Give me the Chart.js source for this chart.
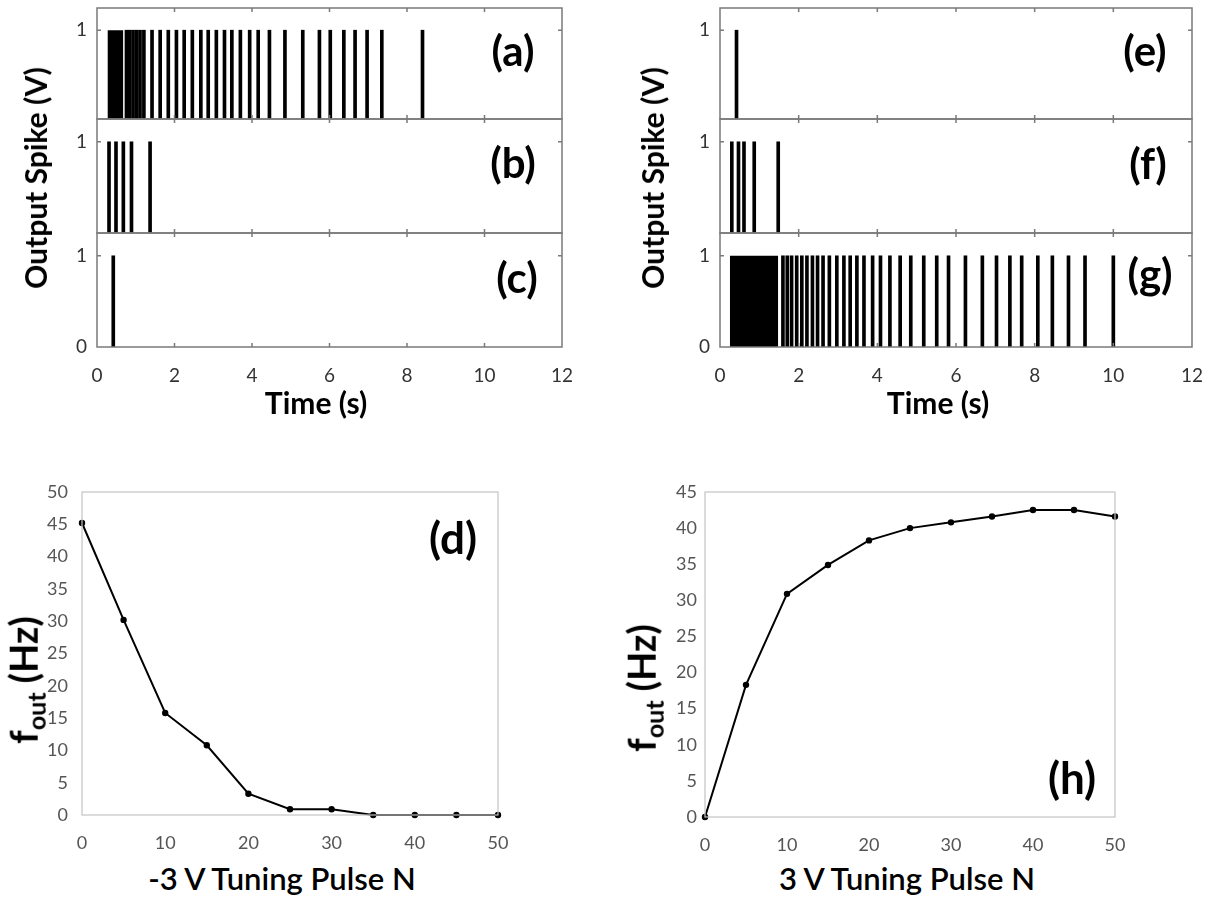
<!DOCTYPE html>
<html><head><meta charset="utf-8">
<script src="https://cdn.jsdelivr.net/npm/chart.js@4.4.0/dist/chart.umd.min.js"></script>
<style>
html,body{margin:0;padding:0;background:#fff;}
#wrap{position:relative;width:1216px;height:900px;overflow:hidden;font-family:Lato,"Open Sans",sans-serif;}
canvas{position:absolute;}
.lbl{position:absolute;font-weight:700;color:#000;white-space:nowrap;line-height:1;transform:translate(-50%,-50%);}
.rot{transform:translate(-50%,-50%) rotate(-90deg);}
.sub{font-size:66%;vertical-align:-0.3em;margin-right:9px;}
</style></head><body><div id="wrap">
<canvas id="cA" width="540" height="126" style="left:40px;top:0px"></canvas>
<canvas id="cB" width="540" height="126" style="left:40px;top:113px"></canvas>
<canvas id="cC" width="540" height="165" style="left:40px;top:227px"></canvas>
<canvas id="cE" width="552" height="126" style="left:660px;top:0px"></canvas>
<canvas id="cF" width="552" height="126" style="left:660px;top:113px"></canvas>
<canvas id="cG" width="552" height="165" style="left:660px;top:227px"></canvas>
<canvas id="cD" width="520" height="385" style="left:0px;top:470px"></canvas>
<canvas id="cH" width="520" height="387" style="left:620px;top:470px"></canvas>

<div class="lbl rot" style="left:35px;top:178px;font-size:30px">Output Spike (V)</div>
<div class="lbl rot" style="left:652px;top:178px;font-size:30px">Output Spike (V)</div>
<div class="lbl" style="left:316px;top:402px;font-size:30px">Time (s)</div>
<div class="lbl" style="left:938px;top:402px;font-size:30px">Time (s)</div>
<div class="lbl" style="left:513px;top:50px;font-size:42px">(a)</div>
<div class="lbl" style="left:513px;top:162px;font-size:42px">(b)</div>
<div class="lbl" style="left:517px;top:277px;font-size:42px">(c)</div>
<div class="lbl" style="left:1145px;top:50px;font-size:42px">(e)</div>
<div class="lbl" style="left:1148px;top:163px;font-size:42px">(f)</div>
<div class="lbl" style="left:1150px;top:273px;font-size:42px">(g)</div>
<div class="lbl" style="left:453px;top:537px;font-size:44px">(d)</div>
<div class="lbl" style="left:1072px;top:777px;font-size:44px">(h)</div>
<div class="lbl rot" style="left:26px;top:680px;font-size:38px">f<span class="sub">out</span>(Hz)</div>
<div class="lbl rot" style="left:644px;top:688px;font-size:38px">f<span class="sub">out</span>(Hz)</div>
<div class="lbl" style="left:282px;top:878px;font-size:31px;font-weight:600">-3 V Tuning Pulse N</div>
<div class="lbl" style="left:907px;top:878px;font-size:31px;font-weight:600">3 V Tuning Pulse N</div>
</div>
<script>
// ---- data ----
const timeTicks = [0, 2, 4, 6, 8, 10, 12];
const spikeAmp = 1;
const burstA = [0.27, 0.68];
const spikesA = [0.76, 0.84, 0.93, 1.02, 1.11, 1.21, 1.42, 1.63, 1.84, 2.05, 2.25, 2.46, 2.68, 2.87, 3.08, 3.29, 3.48, 3.70, 3.94, 4.16, 4.45, 4.85, 5.31, 5.74, 6.02, 6.37, 6.66, 6.97, 7.35, 8.40];
const spikesB = [0.31, 0.49, 0.68, 0.89, 1.37];
const spikesC = [0.42];
const spikesE = [0.42];
const spikesF = [0.30, 0.47, 0.61, 0.87, 1.48];
const burstG = [0.25, 1.48];
const spikesG = [1.60, 1.71, 1.82, 1.95, 2.08, 2.21, 2.35, 2.48, 2.62, 2.78, 2.97, 3.15, 3.31, 3.48, 3.66, 3.88, 4.08, 4.32, 4.58, 4.85, 5.18, 5.51, 5.81, 6.24, 6.67, 7.03, 7.37, 7.67, 8.08, 8.45, 8.86, 9.28, 10.00];
const pulseN = [0, 5, 10, 15, 20, 25, 30, 35, 40, 45, 50];
const foutNeg = [45.2, 30.2, 15.8, 10.8, 3.3, 0.9, 0.9, 0, 0, 0, 0];
const foutPos = [0, 18.3, 30.9, 34.9, 38.3, 40.0, 40.8, 41.6, 42.5, 42.5, 41.6];
const nTicks = [0, 10, 20, 30, 40, 50];
const fTicksNeg = [0, 5, 10, 15, 20, 25, 30, 35, 40, 45, 50];
const fTicksPos = [0, 5, 10, 15, 20, 25, 30, 35, 40, 45];

const FONT = 'Lato, "Open Sans", sans-serif';

function noPad(s) { s.paddingTop = 0; s.paddingBottom = 0; s.paddingLeft = 0; s.paddingRight = 0; }

const framePlugin = {
  id: 'frame',
  afterDatasetsDraw(chart, args, o) {
    const {ctx, chartArea: a, scales} = chart;
    ctx.save();
    ctx.strokeStyle = o.color;
    ctx.lineWidth = o.width;
    ctx.strokeRect(a.left, a.top, a.right - a.left, a.bottom - a.top);
    if (o.ticks) {
      ctx.beginPath();
      scales.x.ticks.forEach(t => {
        const px = scales.x.getPixelForValue(t.value);
        if (px <= a.left + 1 || px >= a.right - 1) return;
        ctx.moveTo(px, a.bottom); ctx.lineTo(px, a.bottom - o.len);
        ctx.moveTo(px, a.top); ctx.lineTo(px, a.top + o.len);
      });
      scales.y.ticks.forEach(t => {
        const py = scales.y.getPixelForValue(t.value);
        if (py <= a.top + 1 || py >= a.bottom - 1) return;
        ctx.moveTo(a.left, py); ctx.lineTo(a.left + o.len, py);
        ctx.moveTo(a.right, py); ctx.lineTo(a.right - o.len, py);
      });
      ctx.stroke();
    }
    ctx.restore();
  }
};

function spikeChart(id, spikes, burst, o) {
  const datasets = [{
    type: 'bar',
    data: spikes.map(t => ({x: t, y: spikeAmp})),
    backgroundColor: '#000', borderWidth: 0, barThickness: 3
  }];
  if (burst) {
    datasets.push({
      type: 'line',
      data: burst.map(t => ({x: t, y: spikeAmp})),
      borderWidth: 0, pointRadius: 0, fill: 'origin',
      backgroundColor: '#000', borderColor: '#000'
    });
  }
  new Chart(document.getElementById(id), {
    type: 'bar',
    data: {datasets},
    options: {
      responsive: false, animation: false,
      layout: {padding: {left: 0, right: o.padR, top: o.padT, bottom: o.padB}},
      plugins: {legend: {display: false}, tooltip: {enabled: false},
        frame: {color: '#7a7a7a', width: 1.5, ticks: true, len: 4}},
      scales: {
        x: {
          type: 'linear', min: 0, max: 12, offset: false,
          afterBuildTicks: s => { s.ticks = timeTicks.map(v => ({value: v})); },
          grid: {display: false, drawTicks: false, offset: false}, border: {display: false},
          ticks: {display: o.showX, font: {family: FONT, size: 19}, color: '#333', padding: 17, maxRotation: 0, autoSkip: false},
          afterFit: s => { s.height = o.xH; noPad(s); }
        },
        y: {
          min: 0, max: 1.25,
          afterBuildTicks: s => { s.ticks = o.yTicks.map(v => ({value: v})); },
          grid: {display: false, drawTicks: false}, border: {display: false},
          ticks: {font: {family: FONT, size: 19}, color: '#333', padding: 10},
          afterFit: s => { s.width = o.yW; noPad(s); }
        }
      }
    },
    plugins: [framePlugin]
  });
}

function freqChart(id, ys, yMax, yTicks, o) {
  new Chart(document.getElementById(id), {
    type: 'line',
    data: {datasets: [{
      data: pulseN.map((n, i) => ({x: n, y: ys[i]})),
      borderColor: '#000', borderWidth: 2, pointRadius: 2.2,
      pointBackgroundColor: '#000', pointBorderColor: '#000', tension: 0, clip: false
    }]},
    options: {
      responsive: false, animation: false,
      layout: {padding: {left: 0, right: o.padR, top: o.padT, bottom: 0}},
      plugins: {legend: {display: false}, tooltip: {enabled: false},
        frame: {color: '#c4c4c4', width: 1.2, ticks: false}},
      scales: {
        x: {
          type: 'linear', min: 0, max: 50,
          afterBuildTicks: s => { s.ticks = nTicks.map(v => ({value: v})); },
          grid: {display: false, drawTicks: false}, border: {display: false},
          ticks: {font: {family: FONT, size: 18}, color: '#555', padding: 17, maxRotation: 0, autoSkip: false},
          afterFit: s => { s.height = 40; noPad(s); }
        },
        y: {
          min: 0, max: yMax,
          afterBuildTicks: s => { s.ticks = yTicks.map(v => ({value: v})); },
          grid: {display: false, drawTicks: false}, border: {display: false},
          ticks: {font: {family: FONT, size: 18}, color: '#555', padding: o.yPad, autoSkip: false},
          afterFit: s => { s.width = o.yW; noPad(s); }
        }
      }
    },
    plugins: [framePlugin]
  });
}

spikeChart('cA', spikesA, burstA, {padR: 18, padT: 8, padB: 7, xH: 0, showX: false, yTicks: [1], yW: 57});
spikeChart('cB', spikesB, null, {padR: 18, padT: 6, padB: 6, xH: 0, showX: false, yTicks: [1], yW: 57});
spikeChart('cC', spikesC, null, {padR: 18, padT: 6, padB: 0, xH: 45, showX: true, yTicks: [0, 1], yW: 57});
spikeChart('cE', spikesE, null, {padR: 20, padT: 8, padB: 7, xH: 0, showX: false, yTicks: [1], yW: 60});
spikeChart('cF', spikesF, null, {padR: 20, padT: 6, padB: 6, xH: 0, showX: false, yTicks: [1], yW: 60});
spikeChart('cG', spikesG, burstG, {padR: 20, padT: 6, padB: 0, xH: 45, showX: true, yTicks: [0, 1], yW: 60});
freqChart('cD', foutNeg, 50, fTicksNeg, {padR: 22, padT: 22, yW: 82, yPad: 14});
freqChart('cH', foutPos, 45, fTicksPos, {padR: 25, padT: 22, yW: 85, yPad: 8});
</script>
</body></html>
